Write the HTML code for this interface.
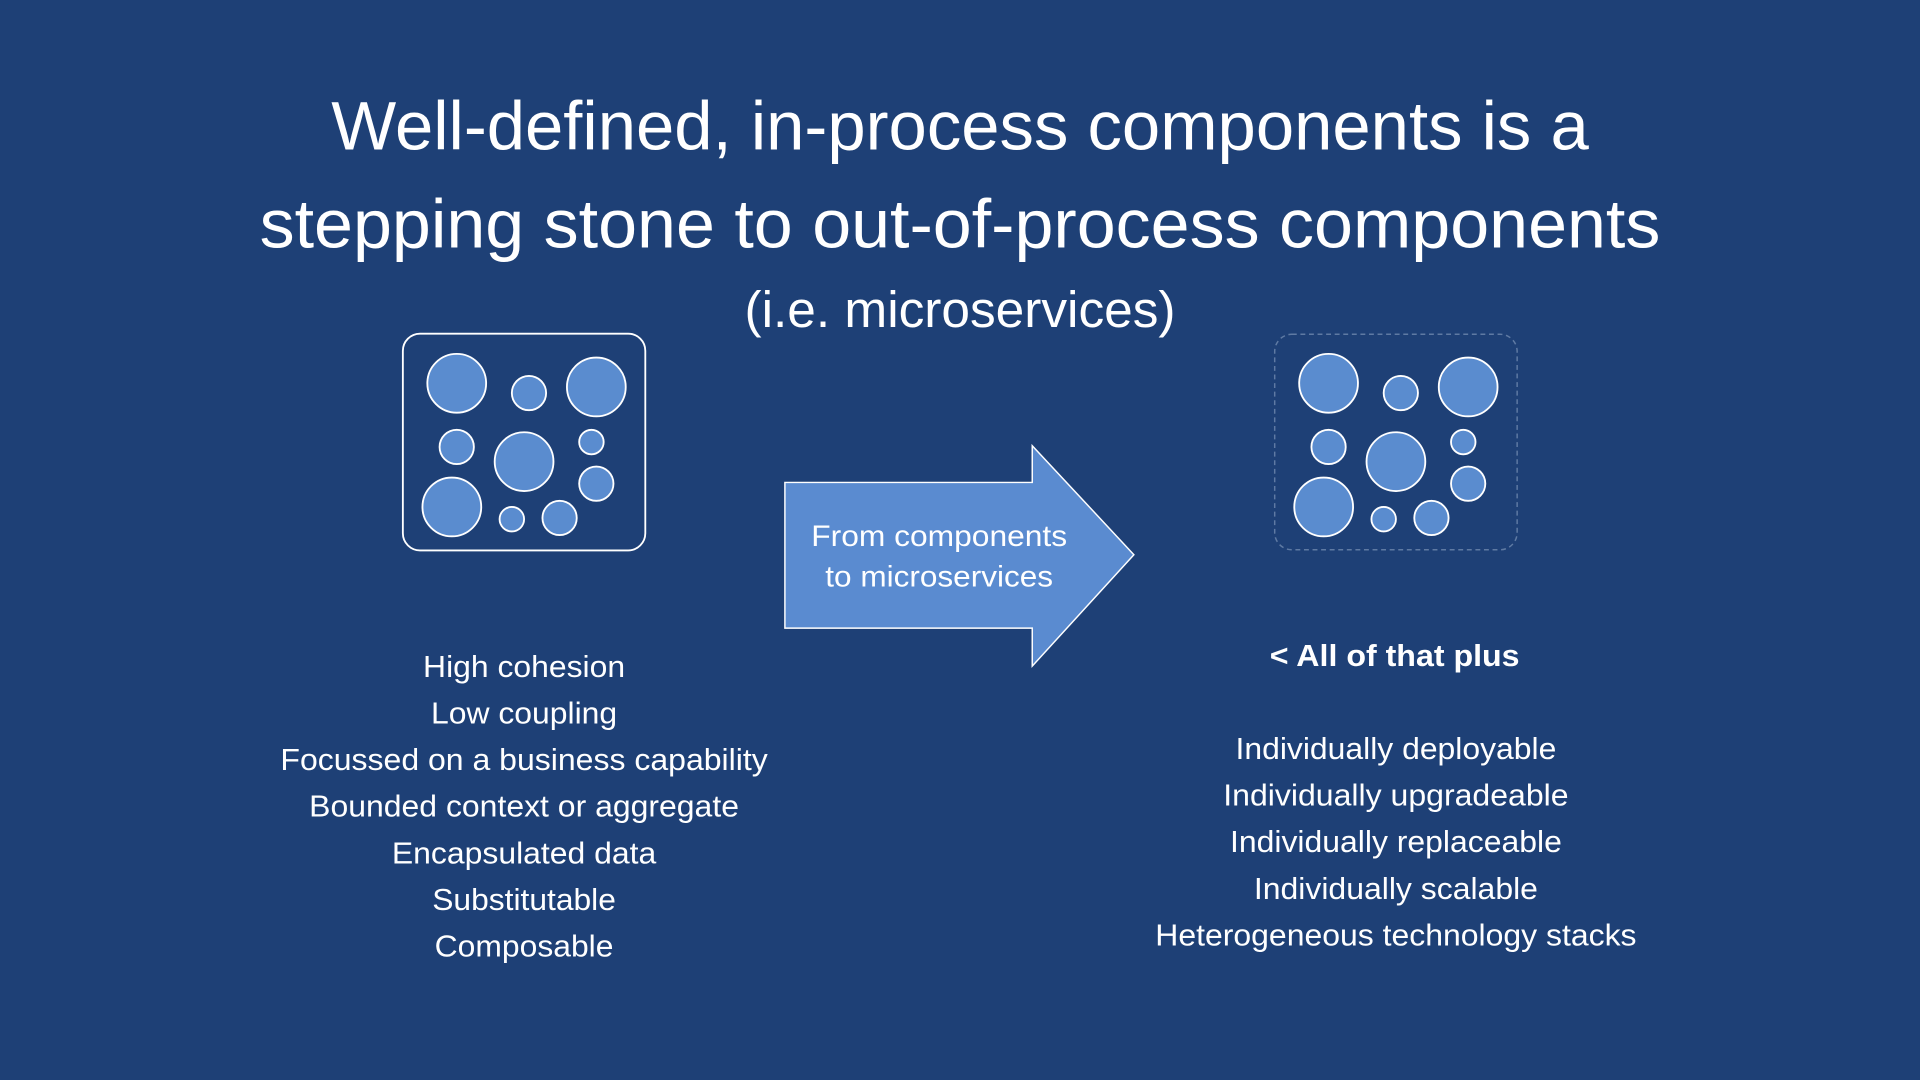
<!DOCTYPE html>
<html><head><meta charset="utf-8"><style>
html,body{margin:0;padding:0;background:#1e4076;}
svg{display:block;}
text{font-family:"Liberation Sans",sans-serif;fill:#fff;}
</style></head><body>
<svg width="1920" height="1080" viewBox="0 0 1568 882" preserveAspectRatio="none" xmlns="http://www.w3.org/2000/svg">
<rect width="1568" height="882" fill="#1e4076"/>
<text x="784" y="122" font-size="56" text-anchor="middle" textLength="1027" lengthAdjust="spacingAndGlyphs">Well-defined, in-process components is a</text>
<text x="784" y="202" font-size="56" text-anchor="middle" textLength="1144" lengthAdjust="spacingAndGlyphs">stepping stone to out-of-process components</text>
<text x="784" y="267" font-size="42" text-anchor="middle" textLength="352" lengthAdjust="spacingAndGlyphs">(i.e. microservices)</text>

<defs>
<g id="c">
<circle cx="373" cy="313" r="24"/><circle cx="432" cy="321" r="14"/><circle cx="487" cy="316" r="24"/>
<circle cx="373" cy="365" r="14"/><circle cx="428" cy="377" r="24"/><circle cx="483" cy="361" r="10"/>
<circle cx="487" cy="395" r="14"/><circle cx="369" cy="414" r="24"/><circle cx="418" cy="424" r="10"/>
<circle cx="457" cy="423" r="14"/>
</g>
</defs>
<rect x="329" y="272.5" width="198" height="177" rx="14" fill="none" stroke="#fff" stroke-width="1.5"/>
<g fill="#5a8ccf" stroke="#fff" stroke-width="1.5"><use href="#c"/></g>
<rect x="1041" y="273" width="198" height="176" rx="14" fill="none" stroke="#5f7aa3" stroke-width="1.2" stroke-dasharray="4 3"/>
<g fill="#5a8ccf" stroke="#fff" stroke-width="1.5" transform="translate(712,0)"><use href="#c"/></g>

<polygon points="641,394 843,394 843,364 926,453 843,544 843,513 641,513" fill="#5a8bd0" stroke="#fff" stroke-width="1.2"/>
<g font-size="24" text-anchor="middle" lengthAdjust="spacingAndGlyphs">
<text x="767" y="446" textLength="209" lengthAdjust="spacingAndGlyphs">From components</text>
<text x="767" y="479" textLength="186" lengthAdjust="spacingAndGlyphs">to microservices</text>
</g>

<g font-size="25" text-anchor="middle">
<text x="428" y="553" textLength="165" lengthAdjust="spacingAndGlyphs">High cohesion</text>
<text x="428" y="591" textLength="152" lengthAdjust="spacingAndGlyphs">Low coupling</text>
<text x="428" y="629" textLength="398" lengthAdjust="spacingAndGlyphs">Focussed on a business capability</text>
<text x="428" y="667" textLength="351" lengthAdjust="spacingAndGlyphs">Bounded context or aggregate</text>
<text x="428" y="705" textLength="216" lengthAdjust="spacingAndGlyphs">Encapsulated data</text>
<text x="428" y="743" textLength="150" lengthAdjust="spacingAndGlyphs">Substitutable</text>
<text x="428" y="781" textLength="146" lengthAdjust="spacingAndGlyphs">Composable</text>
<text x="1139" y="544" font-weight="bold" textLength="204" lengthAdjust="spacingAndGlyphs">&lt; All of that plus</text>
<text x="1140" y="620" textLength="262" lengthAdjust="spacingAndGlyphs">Individually deployable</text>
<text x="1140" y="658" textLength="282" lengthAdjust="spacingAndGlyphs">Individually upgradeable</text>
<text x="1140" y="696" textLength="271" lengthAdjust="spacingAndGlyphs">Individually replaceable</text>
<text x="1140" y="734" textLength="232" lengthAdjust="spacingAndGlyphs">Individually scalable</text>
<text x="1140" y="772" textLength="393" lengthAdjust="spacingAndGlyphs">Heterogeneous technology stacks</text>
</g>
</svg>
</body></html>
